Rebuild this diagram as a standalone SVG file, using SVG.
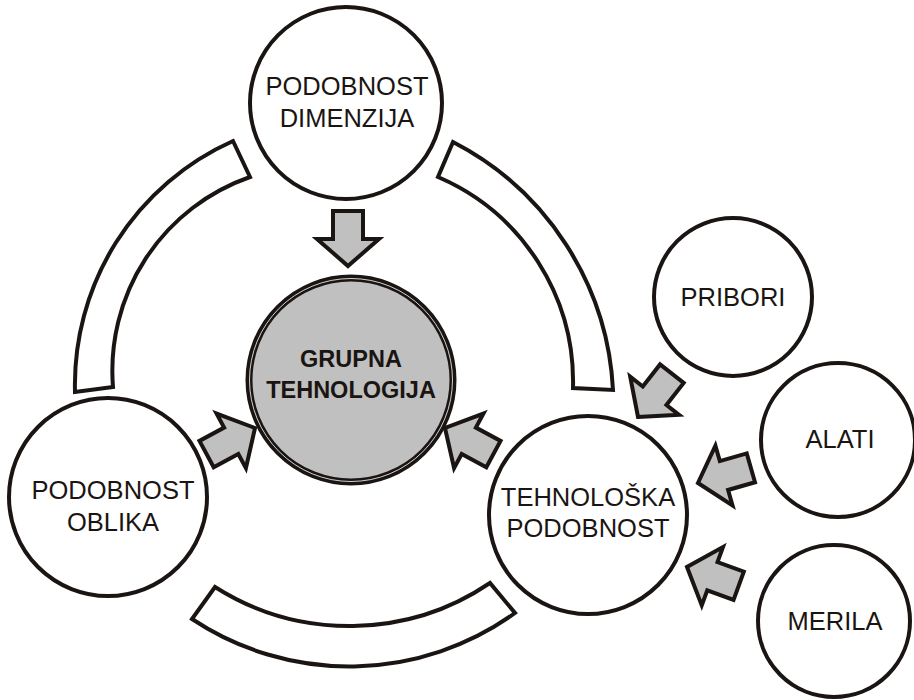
<svg xmlns="http://www.w3.org/2000/svg" xmlns:xlink="http://www.w3.org/1999/xlink" width="914" height="700" viewBox="0 0 914 700">
<style>
.node{fill:#ffffff;stroke:#1a1512;stroke-width:4}
.lbl{font-family:"Liberation Sans",Arial,sans-serif;font-size:25.5px;fill:#1a1512;text-anchor:middle}
.center{fill:#c0c0c0;stroke:#1a1512;stroke-width:7}
.clbl{font-family:"Liberation Sans",Arial,sans-serif;font-size:23.5px;font-weight:bold;fill:#1a1512;text-anchor:middle}
.band{fill:#ffffff;stroke:#1a1512;stroke-width:4;stroke-linejoin:miter}
.arr{fill:#c0c0c0;stroke:#1a1512;stroke-width:4;stroke-linejoin:miter}
</style>
<defs>
<polygon id="arrow" class="arr" points="0,0 -27,-31 -27,-15 -55,-15 -55,15 -27,15 -27,31"/>
</defs>
<rect width="914" height="700" fill="#ffffff"/>
<g id="connectors">
<path class="band" d="M233,141 A267,267 0 0 0 75,392 L113,387 A205,205 0 0 1 250,177 Z"/>
<path class="band" d="M453,142 A296,296 0 0 1 613,390 L573,388 A223,223 0 0 0 438,177 Z"/>
<path class="band" d="M215,587 A251,251 0 0 0 490,583 L515,613 A284,284 0 0 1 192,619 Z"/>
<use xlink:href="#arrow" href="#arrow" transform="translate(348,266) rotate(90)"/>
<use xlink:href="#arrow" href="#arrow" transform="translate(255,428) rotate(-28.3)"/>
<use xlink:href="#arrow" href="#arrow" transform="translate(445,428) rotate(-151.7)"/>
<use xlink:href="#arrow" href="#arrow" transform="translate(638,417) rotate(128)"/>
<use xlink:href="#arrow" href="#arrow" transform="translate(698,483) rotate(164)"/>
<use xlink:href="#arrow" href="#arrow" transform="translate(687,567) rotate(200)"/>
</g>
<g id="node-grupna">
<circle class="center" cx="351" cy="380" r="102"/>
<circle cx="351" cy="380" r="101.5" fill="none" stroke="#ffffff" stroke-width="0.8"/>
<text class="clbl" x="351" y="367">GRUPNA</text>
<text class="clbl" x="351" y="398">TEHNOLOGIJA</text>
</g>
<g id="node-dimenzija">
<circle class="node" cx="346" cy="103" r="96"/>
<text class="lbl" x="347" y="95">PODOBNOST</text>
<text class="lbl" x="347" y="127">DIMENZIJA</text>
</g>
<g id="node-oblika">
<circle class="node" cx="108" cy="497" r="99"/>
<text class="lbl" x="113" y="499">PODOBNOST</text>
<text class="lbl" x="113" y="531">OBLIKA</text>
</g>
<g id="node-tehnoloska">
<circle class="node" cx="588" cy="515" r="99"/>
<text class="lbl" x="588" y="506">TEHNOLOŠKA</text>
<text class="lbl" x="588" y="537">PODOBNOST</text>
</g>
<g id="node-pribori">
<circle class="node" cx="733" cy="297" r="79"/>
<text class="lbl" x="733" y="306">PRIBORI</text>
</g>
<g id="node-alati">
<circle class="node" cx="838" cy="440" r="77"/>
<text class="lbl" x="840" y="448">ALATI</text>
</g>
<g id="node-merila">
<circle class="node" cx="834" cy="621" r="76"/>
<text class="lbl" x="835" y="630">MERILA</text>
</g>
</svg>
